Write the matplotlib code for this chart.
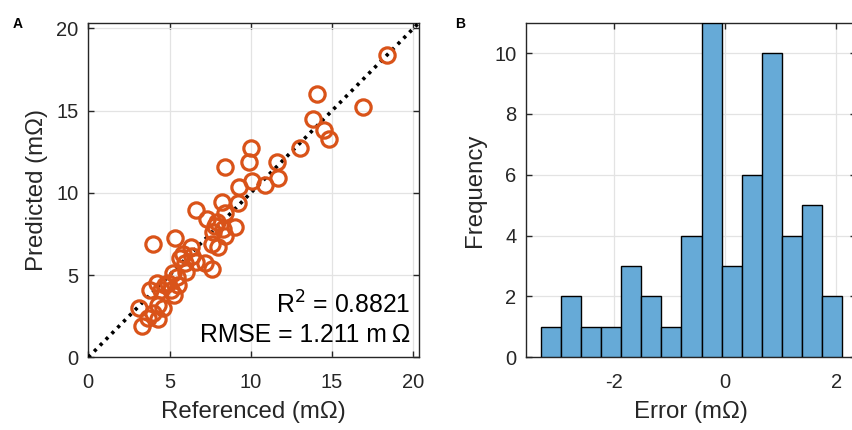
import numpy as np
import matplotlib.pyplot as plt

plt.rcParams['font.family'] = ['Liberation Sans', 'DejaVu Sans']
plt.rcParams['axes.unicode_minus'] = False

# %% Daten (aus dem Bild geschaetzt)

ref_vals = [18.4, 14.1, 16.9, 13.8, 14.5, 14.8, 13.0, 10.0, 9.9, 11.6,
            8.4, 11.7, 10.9, 10.05, 9.3, 9.2, 8.2, 8.4, 6.6, 7.3,
            7.9, 8.3, 9.0, 7.7, 7.6, 8.0, 8.4, 7.8,
            4.0, 5.35, 6.3, 5.65, 6.4, 7.2, 5.95, 7.6, 5.45, 4.9,
            5.55, 4.2, 3.8, 4.5, 5.1, 5.3, 4.3, 3.1, 4.0, 3.7,
            4.3, 3.3, 4.6, 5.8, 6.6, 5.2, 4.7, 6.0]
pred_vals = [18.4, 16.0, 15.2, 14.5, 13.8, 13.3, 12.7, 12.7, 11.9, 11.9,
             11.6, 10.9, 10.5, 10.7, 10.35, 9.4, 9.45, 8.8, 8.95, 8.4,
             8.2, 7.8, 7.9, 7.6, 6.9, 6.7, 7.4, 8.0,
             6.9, 7.25, 6.7, 6.05, 6.15, 5.75, 5.75, 5.35, 4.9, 4.5,
             4.4, 4.5, 4.1, 4.1, 4.1, 3.8, 3.2, 3.0, 2.7, 2.4,
             2.3, 1.9, 3.0, 6.3, 5.8, 5.1, 4.4, 5.2]

bin_edges = np.linspace(-3.306, 2.104, 16)
bin_counts = [1, 2, 1, 1, 3, 2, 1, 4, 11, 3, 6, 10, 4, 5, 2]

r2_text = 'R$^2$ = 0.8821'
rmse_text = 'RMSE = 1.211 m\u2009Ω'

# %% Plot

fig = plt.figure(figsize=(8.52, 4.30), dpi=100)

grid_kw = dict(color='#e3e3e3', linewidth=0.9)
tick_fs = 14.5
label_fs = 17.3
spine_col = '#262626'

def style_axes(ax):
    ax.grid(True, **grid_kw)
    ax.set_axisbelow(True)
    ax.tick_params(direction='in', length=4, width=1, labelsize=tick_fs,
                   colors=spine_col, top=True, right=True)
    ax.tick_params(axis='x', pad=11)
    ax.tick_params(axis='y', pad=7)
    for s in ax.spines.values():
        s.set_color(spine_col)
        s.set_linewidth(1.0)

# A: Scatter
ax = fig.add_axes([88.3/852, (430-357.3)/430, 330.7/852, 334.6/430])
lim = 20.35
ax.plot([0, lim], [0, lim], color='black', linestyle=(0, (0.9, 1.4)),
        linewidth=2.6, zorder=3)
ax.plot(ref_vals, pred_vals, linestyle='none', marker='o', markersize=11,
        markerfacecolor='none', markeredgecolor='#D95319',
        markeredgewidth=2.3, zorder=4)
ax.set_xlim(0, lim)
ax.set_ylim(0, lim)
ax.set_xticks([0, 5, 10, 15, 20])
ax.set_yticks([0, 5, 10, 15, 20])
style_axes(ax)
ax.set_xlabel('Referenced (mΩ)', fontsize=label_fs, color=spine_col, labelpad=7)
ax.set_ylabel('Predicted (mΩ)', fontsize=label_fs, color=spine_col, labelpad=6)
ax.text(0.975, 0.13, r2_text, transform=ax.transAxes, ha='right',
        va='baseline', fontsize=17.8, color='black')
ax.text(0.975, 0.045, rmse_text, transform=ax.transAxes, ha='right',
        va='baseline', fontsize=17.8, color='black')
fig.text(13/852, 1-28/430, 'A', fontsize=10, fontweight='bold')

# B: Histogramm
ax = fig.add_axes([526/852, (430-357.3)/430, 330/852, 334.6/430])
ax.bar(bin_edges[:-1], bin_counts, width=np.diff(bin_edges), align='edge',
       color='#66AAD7', edgecolor='black', linewidth=1.0, zorder=3)
ax.set_xlim(-3.57, 2.35)
ax.set_ylim(0, 11)
ax.set_xticks([-2, 0, 2])
ax.set_yticks([0, 2, 4, 6, 8, 10])
style_axes(ax)
ax.spines['right'].set_visible(False)
ax.set_xlabel('Error (mΩ)', fontsize=label_fs, color=spine_col, labelpad=7)
ax.set_ylabel('Frequency', fontsize=label_fs, color=spine_col, labelpad=6)
fig.text(455/852, 1-28/430, 'B', fontsize=10, fontweight='bold')

fig.savefig('out.png', dpi=100)
